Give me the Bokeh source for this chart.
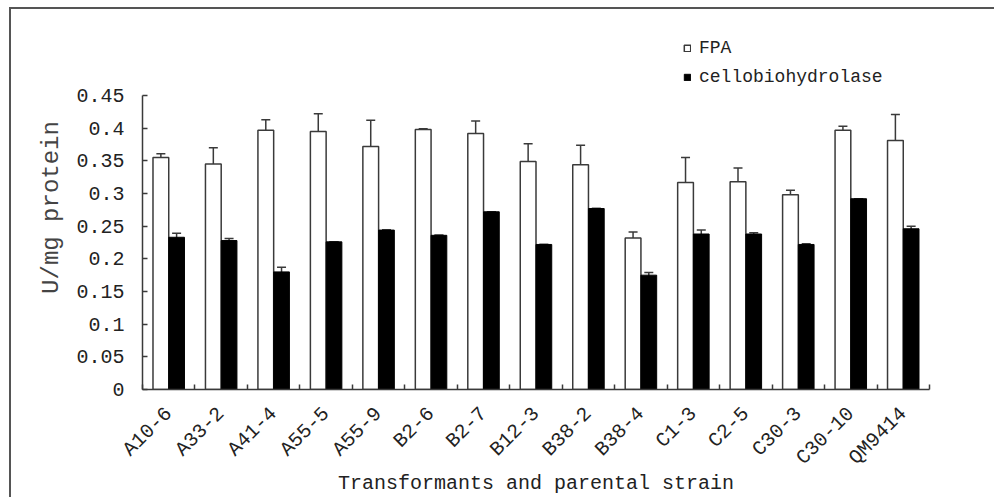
from bokeh.plotting import figure
from bokeh.models import (ColumnDataSource, FixedTicker, Whisker, TeeHead, Legend, LegendItem,
                          Range1d)
from bokeh.transform import dodge
from bokeh.embed import file_html
from bokeh.resources import INLINE

strains = ["A10-6", "A33-2", "A41-4", "A55-5", "A55-9", "B2-6", "B2-7", "B12-3",
           "B38-2", "B38-4", "C1-3", "C2-5", "C30-3", "C30-10", "QM9414"]
fpa = [0.355, 0.345, 0.397, 0.395, 0.372, 0.398, 0.392, 0.349, 0.344, 0.232,
       0.317, 0.318, 0.298, 0.397, 0.381]
fpa_err = [0.006, 0.025, 0.016, 0.027, 0.040, 0.001, 0.019, 0.027, 0.030, 0.009,
           0.038, 0.021, 0.007, 0.006, 0.040]
cbh = [0.233, 0.228, 0.180, 0.226, 0.244, 0.236, 0.272, 0.222, 0.277, 0.175,
       0.238, 0.238, 0.222, 0.292, 0.246]
cbh_err = [0.006, 0.003, 0.007, 0.0, 0.0, 0.0, 0.0, 0.0, 0.0, 0.004,
           0.006, 0.002, 0.001, 0.0, 0.004]
y_ticks = [0, 0.05, 0.1, 0.15, 0.2, 0.25, 0.3, 0.35, 0.4, 0.45]
y_tick_labels = ["0", "0.05", "0.1", "0.15", "0.2", "0.25", "0.3", "0.35", "0.4", "0.45"]

FONT = "Liberation Mono"
INK = "#3a3a3a"

n = len(strains)
centers = [i + 0.5 for i in range(n)]
bounds = [float(i) for i in range(n + 1)]

# axis runs 0..0.45 over 294 px; the frame is taller so the legend can sit above the axis top
Y_AXIS_MAX = 0.45
AXIS_PX = 294
FRAME_PX = 364
y_end = Y_AXIS_MAX * FRAME_PX / AXIS_PX

src = ColumnDataSource(dict(
    x=centers, fpa=fpa, cbh=cbh,
    fpa_hi=[v + e for v, e in zip(fpa, fpa_err)],
    fpa_lo=[v - e for v, e in zip(fpa, fpa_err)],
    cbh_hi=[v + e for v, e in zip(cbh, cbh_err)],
    cbh_lo=[v - e for v, e in zip(cbh, cbh_err)],
))

p = figure(frame_width=787, frame_height=FRAME_PX, output_backend="svg", toolbar_location=None,
           x_range=Range1d(0, n), y_range=Range1d(0, y_end),
           min_border_left=142, min_border_top=25, min_border_right=65, min_border_bottom=104)
p.border_fill_color = None
p.background_fill_color = None
p.outline_line_color = None
p.xgrid.visible = False
p.ygrid.visible = False
p.styles = {
    "background": ("linear-gradient(#555,#555) 9px 7px / calc(100% - 9px) 2px no-repeat, "
                   "linear-gradient(#555,#555) 9px 7px / 2px calc(100% - 7px) no-repeat"),
}

W = 0.3
r1 = p.vbar(x=dodge("x", -0.15, range=p.x_range), top="fpa", width=W, source=src,
            fill_color="white", line_color=INK, line_width=1.5)
r2 = p.vbar(x=dodge("x", 0.15, range=p.x_range), top="cbh", width=W, source=src,
            fill_color="black", line_color="black", line_width=1)

for base, hi, lo in [(-0.15, "fpa_hi", "fpa_lo"), (0.15, "cbh_hi", "cbh_lo")]:
    w = Whisker(source=src, base=dodge("x", base, range=p.x_range), upper=hi, lower=lo,
                line_color=INK, line_width=1.5,
                upper_head=TeeHead(size=9, line_color=INK, line_width=1.5),
                lower_head=TeeHead(size=9, line_color=INK, line_width=1.5))
    p.add_layout(w)

# y axis
ya = p.yaxis[0]
ya.ticker = FixedTicker(ticks=y_ticks)
ya.bounds = (0, Y_AXIS_MAX)
ya.major_label_overrides = {t: l for t, l in zip(y_ticks, y_tick_labels)}
ya.major_tick_in = 5
ya.major_tick_out = 0
ya.minor_tick_line_color = None
ya.axis_line_color = INK
ya.axis_line_width = 1.5
ya.major_tick_line_color = INK
ya.major_tick_line_width = 1.5
ya.major_label_text_font = FONT
ya.major_label_text_font_size = "20px"
ya.major_label_text_color = "#222"
ya.major_label_standoff = 18
ya.axis_label = "U/mg protein"
ya.axis_label_text_font = FONT
ya.axis_label_text_font_size = "24px"
ya.axis_label_text_font_style = "normal"
ya.axis_label_text_color = "#444"
ya.axis_label_standoff = 8

# x axis
xa = p.xaxis[0]
xa.ticker = FixedTicker(ticks=centers, minor_ticks=bounds)
xa.major_label_overrides = {c: s for c, s in zip(centers, strains)}
xa.major_tick_in = 0
xa.major_tick_out = 0
xa.minor_tick_in = 5
xa.minor_tick_out = 0
xa.minor_tick_line_color = INK
xa.minor_tick_line_width = 1.5
xa.axis_line_color = INK
xa.axis_line_width = 1.5
xa.major_label_orientation = 0.785398
xa.major_label_text_font = FONT
xa.major_label_text_font_size = "20px"
xa.major_label_text_color = "#222"
xa.major_label_standoff = 21
xa.axis_label = "Transformants and parental strain"
xa.axis_label_text_font = FONT
xa.axis_label_text_font_size = "20px"
xa.axis_label_text_font_style = "normal"
xa.axis_label_text_color = "#222"
xa.axis_label_standoff = -9

legend = Legend(items=[LegendItem(label="FPA", renderers=[r1]),
                       LegendItem(label="cellobiohydrolase", renderers=[r2])],
                location=(541, AXIS_PX + 8), orientation="vertical",
                glyph_width=8, glyph_height=8, label_height=20, spacing=9,
                label_standoff=8, padding=10, margin=0,
                label_text_font=FONT, label_text_font_size="18px", label_text_color="#222",
                background_fill_alpha=0, border_line_color=None)
p.add_layout(legend, "center")

open("out.html", "w").write(file_html(p, INLINE))
